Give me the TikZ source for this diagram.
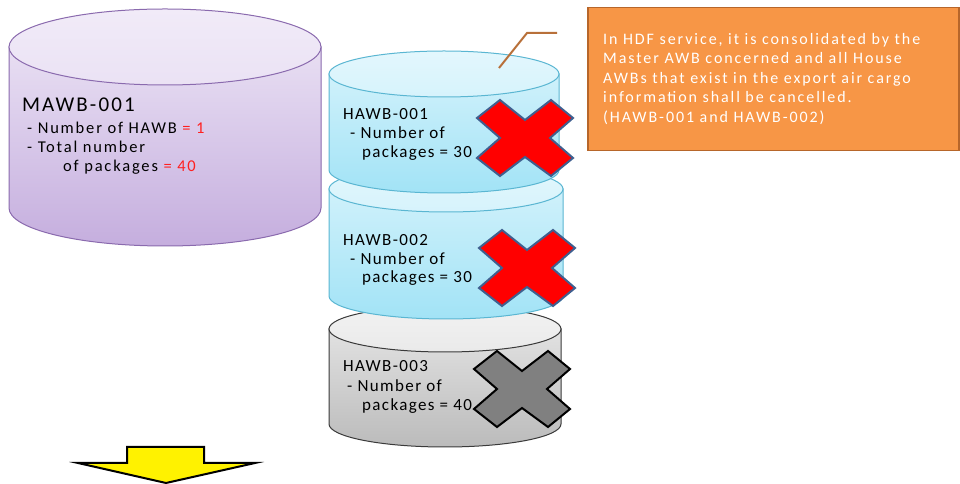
\documentclass[tikz,border=0pt]{standalone}
\usepackage{fontspec}
\setmainfont{Carlito}
\newfontfamily\fntbig{Carlito}[LetterSpace=10]
\newfontfamily\fntmawb{Carlito}[LetterSpace=11]
\newfontfamily\fnthawb{Carlito}[LetterSpace=8]
\newfontfamily\fntnote{Carlito}[LetterSpace=12]
\definecolor{mawbTop}{HTML}{F1EBF8}
\definecolor{mawbBot}{HTML}{C5AEDE}
\definecolor{mawbLine}{HTML}{8A6AAE}
\definecolor{blueTop}{HTML}{E3F7FD}
\definecolor{blueBot}{HTML}{A2E3F6}
\definecolor{blueLine}{HTML}{5AB6D2}
\definecolor{greyTop}{HTML}{F2F2F2}
\definecolor{greyBot}{HTML}{BBBBBB}
\definecolor{greyLine}{HTML}{3A3A3A}
\definecolor{xBlue}{HTML}{3F5F8F}
\definecolor{orangeFill}{HTML}{F79646}
\definecolor{orangeLine}{HTML}{B7662A}
\definecolor{calloutLine}{HTML}{B8703A}
\definecolor{redText}{HTML}{FF2020}
\newcommand\drawcyl[7]{%
  \path[#6] (#1-#2,#3) -- (#1-#2,#4) arc[start angle=180,end angle=360,x radius=#2,y radius=#5] -- (#1+#2,#3) -- cycle;
  \path[#7] (#1,#3) ellipse[x radius=#2,y radius=#5];
}
\newcommand\drawcross[3]{%
  \path[#3,shift={(#1,#2)}] (-48,20) -- (-25,38) -- (0,18) -- (26,38) -- (48,20) -- (25,0) -- (48,-20) -- (26,-38) -- (0,-19) -- (-25,-38) -- (-48,-20) -- (-25,0) -- cycle;
}
\begin{document}
\begin{tikzpicture}[x=1pt,y=1pt,
  mawbbody/.style={top color=mawbTop!80!mawbBot, bottom color=mawbBot, draw=mawbLine, line width=1pt},
  mawbtop/.style={top color=mawbTop, bottom color=mawbTop!85!mawbBot, draw=mawbLine, line width=1pt},
  bluebody/.style={top color=blueTop!70!blueBot, bottom color=blueBot, draw=blueLine, line width=1pt},
  bluetop/.style={top color=blueTop, bottom color=blueTop!80!blueBot, draw=blueLine, line width=1pt},
  greybody/.style={top color=greyTop!70!greyBot, bottom color=greyBot, draw=greyLine, line width=1pt},
  greytop/.style={top color=greyTop, bottom color=greyTop!85!greyBot, draw=greyLine, line width=1pt},
  redcross/.style={fill=red, draw=xBlue, line width=2pt, line join=miter},
  greycross/.style={fill=gray, draw=black, line width=2pt, line join=miter},
  bigtxt/.style={anchor=west, inner sep=0pt, font=\fntbig\fontsize{21}{24}\selectfont},
  txt/.style={anchor=west, inner sep=0pt, font=\fntmawb\fontsize{16.5}{19}\selectfont},
  htxt/.style={anchor=west, inner sep=0pt, font=\fnthawb\fontsize{17}{19}\selectfont}
]
\useasboundingbox (0,0) rectangle (960,484);
\fill[white] (0,0) rectangle (960,484);

% MAWB cylinder
\drawcyl{165}{156}{437}{276}{38}{mawbbody}{mawbtop}
\node[bigtxt] (m0) at (22,379) {MAWB-001};
\node[txt] (m1) at (27,356) {- Number of HAWB {\color{redText}= 1}};
\node[txt] (m2) at (27,337) {- Total number};
\node[txt] (m3) at (63,317) {of packages {\color{redText}= 40}};

% HAWB cylinders (bottom first)
\drawcyl{445}{116}{155}{60}{23}{greybody}{greytop}
\drawcyl{446}{117}{295}{188}{23}{bluebody}{bluetop}
\drawcyl{444}{115}{410}{314}{23}{bluebody}{bluetop}

\node[htxt] (h1a) at (343,370) {HAWB-001};
\node[htxt] (h1b) at (350,351) {- Number of};
\node[htxt] (h1c) at (362,331) {packages = 30};

\node[htxt] (h2a) at (343,244) {HAWB-002};
\node[htxt] (h2b) at (350,225) {- Number of};
\node[htxt] (h2c) at (362,206) {packages = 30};

\node[htxt] (h3a) at (343,118) {HAWB-003};
\node[htxt] (h3b) at (347,98) {- Number of};
\node[htxt] (h3c) at (362,78) {packages = 40};

% crosses
\drawcross{525}{346}{redcross}
\drawcross{527}{216}{redcross}
\drawcross{522}{95}{greycross}

% callout box
\node[draw=orangeLine, line width=1.5pt, fill=orangeFill, minimum width=371pt, minimum height=143pt, anchor=north west, inner sep=0pt] (box) at (587,477) {};
\node[anchor=west, inner sep=0pt, align=left, text=white, font=\fntnote\fontsize{16}{19.5}\selectfont] (boxtxt) at (603,405) {In HDF service, it is consolidated by the\\Master AWB concerned and all House\\AWBs that exist in the export air cargo\\information shall be cancelled.\\(HAWB-001 and HAWB-002)};
\coordinate (c0) at (499,416);
\coordinate (c1) at (527,451);
\coordinate (c2) at (557,451);
\draw[calloutLine, line width=2pt] (c0) -- (c1) -- (c2);

% yellow arrow
\draw[fill=yellow, draw=black, line width=2pt, line join=miter] (127,37) -- (204,37) -- (204,21) -- (255,21) -- (166,1) -- (78,21) -- (127,21) -- cycle;
\end{tikzpicture}
\end{document}
